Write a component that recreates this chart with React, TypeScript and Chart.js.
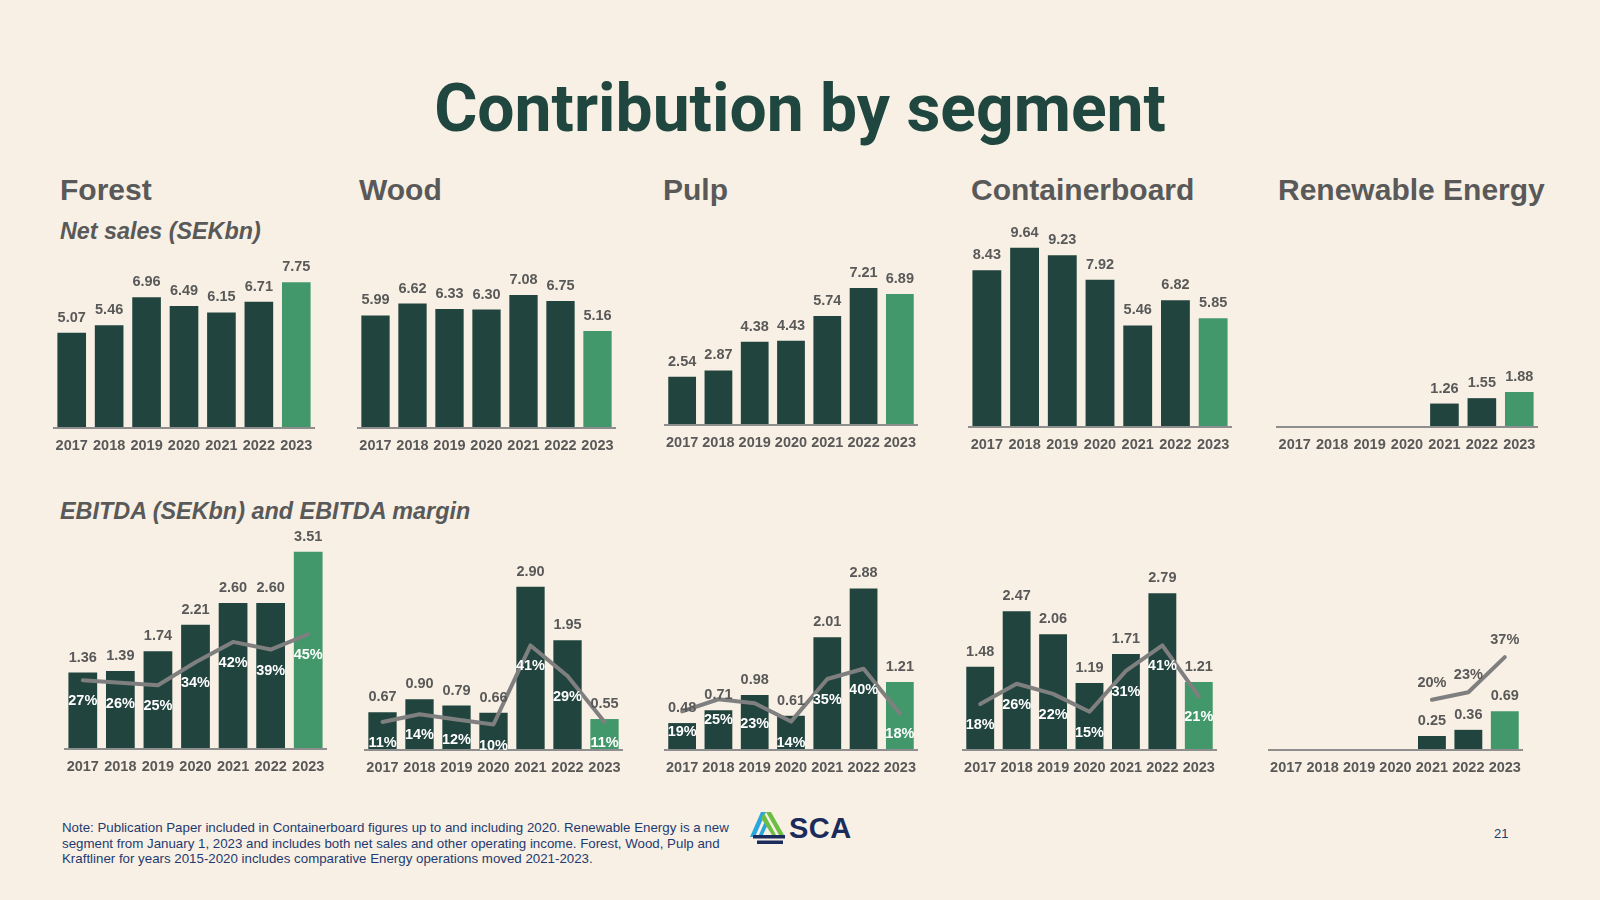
import React, { useEffect, useRef } from "react";
import { Chart, registerables } from "chart.js";

Chart.register(...registerables);

// ---------- data ----------
const years = ["2017", "2018", "2019", "2020", "2021", "2022", "2023"];

const forestSales = [5.07, 5.46, 6.96, 6.49, 6.15, 6.71, 7.75];
const woodSales = [5.99, 6.62, 6.33, 6.3, 7.08, 6.75, 5.16];
const pulpSales = [2.54, 2.87, 4.38, 4.43, 5.74, 7.21, 6.89];
const containerboardSales = [8.43, 9.64, 9.23, 7.92, 5.46, 6.82, 5.85];
const energySales = [null, null, null, null, 1.26, 1.55, 1.88];

const forestEbitda = [1.36, 1.39, 1.74, 2.21, 2.6, 2.6, 3.51];
const forestMargin = [27, 26, 25, 34, 42, 39, 45];
const woodEbitda = [0.67, 0.9, 0.79, 0.66, 2.9, 1.95, 0.55];
const woodMargin = [11, 14, 12, 10, 41, 29, 11];
const pulpEbitda = [0.48, 0.71, 0.98, 0.61, 2.01, 2.88, 1.21];
const pulpMargin = [19, 25, 23, 14, 35, 40, 18];
const containerboardEbitda = [1.48, 2.47, 2.06, 1.19, 1.71, 2.79, 1.21];
const containerboardMargin = [18, 26, 22, 15, 31, 41, 21];
const energyEbitda = [null, null, null, null, 0.25, 0.36, 0.69];
const energyMargin = [null, null, null, null, 20, 23, 37];

const segmentNames = ["Forest", "Wood", "Pulp", "Containerboard", "Renewable Energy"];

// ---------- styles ----------
const BG = "#F8F0E4";
const DARK = "#21443E";
const GREEN = "#43986B";
const GRAY = "#595959";
const LINE = "#7F7F7F";
const AXIS = "#8E8E8E";
const TITLE = "#1F463F";
const NAVY = "#1F3A70";
const FONT = '"Liberation Sans", Arial, Helvetica, sans-serif';

const headingX = [60, 359, 663, 971, 1278];

const salesGeo = [
  { left: 53, right: 315, baseline: 428, unitPx: 18.8 },
  { left: 357, right: 616, baseline: 428, unitPx: 18.8 },
  { left: 664, right: 918, baseline: 425, unitPx: 19.0 },
  { left: 968, right: 1232, baseline: 427, unitPx: 18.6 },
  { left: 1276, right: 1538, baseline: 427, unitPx: 18.6 },
];

const ebitdaGeo = [
  { left: 64, right: 327, baseline: 749, unitPx: 56.2, pctPx: 2.55 },
  { left: 364, right: 623, baseline: 750, unitPx: 56.3, pctPx: 2.55 },
  { left: 664, right: 918, baseline: 750, unitPx: 56.1, pctPx: 2.03 },
  { left: 962, right: 1217, baseline: 750, unitPx: 56.2, pctPx: 2.55 },
  { left: 1268, right: 1523, baseline: 750, unitPx: 56.0, pctPx: 2.51, pctAbove: true },
];

const salesSeries = [forestSales, woodSales, pulpSales, containerboardSales, energySales];
const ebitdaSeries = [forestEbitda, woodEbitda, pulpEbitda, containerboardEbitda, energyEbitda];
const marginSeries = [forestMargin, woodMargin, pulpMargin, containerboardMargin, energyMargin];

const TOP_SPACE = 235;
const BOTTOM_SPACE = 32;

type Geo = {
  left: number;
  right: number;
  baseline: number;
  unitPx: number;
  pctPx?: number;
  pctAbove?: boolean;
};

function SegChart({ values, margins, geo }: { values: (number | null)[]; margins?: (number | null)[]; geo: Geo }) {
  const ref = useRef<HTMLCanvasElement>(null);
  const width = geo.right - geo.left;
  const height = TOP_SPACE + BOTTOM_SPACE;

  useEffect(() => {
    if (!ref.current) return;
    const colors = values.map((_, i) => (i === values.length - 1 ? GREEN : DARK));
    const datasets: any[] = [
      {
        type: "bar",
        data: values,
        backgroundColor: colors,
        borderWidth: 0,
        barPercentage: 0.765,
        categoryPercentage: 1,
        order: 2,
        yAxisID: "y",
      },
    ];
    if (margins) {
      datasets.push({
        type: "line",
        data: margins,
        borderColor: LINE,
        borderWidth: 4,
        pointRadius: 0,
        tension: 0,
        spanGaps: false,
        borderJoinStyle: "round",
        borderCapStyle: "round",
        order: 1,
        yAxisID: "y2",
      });
    }

    const labelPlugin = {
      id: "segLabels",
      afterDatasetsDraw(chart: any) {
        const ctx = chart.ctx;
        const area = chart.chartArea;
        const xs = chart.scales.x;
        ctx.save();
        // axis line
        ctx.strokeStyle = AXIS;
        ctx.lineWidth = 2;
        ctx.beginPath();
        ctx.moveTo(area.left, area.bottom);
        ctx.lineTo(area.right, area.bottom);
        ctx.stroke();
        ctx.textAlign = "center";
        ctx.textBaseline = "middle";
        ctx.font = `bold 14.5px ${FONT}`;
        ctx.fillStyle = GRAY;
        years.forEach((y, i) => ctx.fillText(y, xs.getPixelForValue(i), area.bottom + 18));
        // value labels
        const barMeta = chart.getDatasetMeta(0);
        barMeta.data.forEach((el: any, i: number) => {
          const v = values[i];
          if (v == null) return;
          ctx.fillStyle = GRAY;
          ctx.fillText(v.toFixed(2), el.x, el.y - 15);
        });
        // margin labels
        if (margins) {
          const lineMeta = chart.getDatasetMeta(1);
          lineMeta.data.forEach((pt: any, i: number) => {
            const m = margins[i];
            if (m == null) return;
            if (geo.pctAbove) {
              ctx.fillStyle = GRAY;
              ctx.fillText(`${m}%`, pt.x, pt.y - 17);
            } else {
              ctx.fillStyle = "#FFFFFF";
              ctx.fillText(`${m}%`, pt.x, pt.y + 21);
            }
          });
        }
        ctx.restore();
      },
    };

    const scales: any = {
      x: { type: "category", display: false, offset: true, grid: { display: false } },
      y: { type: "linear", display: false, min: 0, max: TOP_SPACE / geo.unitPx },
    };
    if (geo.pctPx) {
      scales.y2 = { type: "linear", display: false, min: 0, max: TOP_SPACE / geo.pctPx, position: "right" };
    }

    const chart = new Chart(ref.current, {
      type: "bar",
      data: { labels: years, datasets },
      options: {
        responsive: false,
        animation: false,
        devicePixelRatio: 1,
        layout: { padding: { left: 0, right: 0, top: 0, bottom: BOTTOM_SPACE } },
        plugins: { legend: { display: false }, tooltip: { enabled: false } },
        scales,
      } as any,
      plugins: [labelPlugin],
    });
    return () => chart.destroy();
  }, []);

  return (
    <canvas
      ref={ref}
      width={width}
      height={height}
      style={{
        position: "absolute",
        left: geo.left,
        top: geo.baseline - TOP_SPACE,
        width,
        height,
      }}
    />
  );
}

function Logo() {
  return (
    <div style={{ position: "absolute", left: 749, top: 809 }}>
      <svg width="38" height="37" viewBox="0 0 38 37">
        <polygon points="1,28 12,3 17,3 6,28" fill="#2AA6DF" />
        <polygon points="9,28 17,10 19.5,14 13,28" fill="#2AA6DF" />
        <polygon points="17,3 22,3 35,26 30,26" fill="#6CBE45" />
        <polygon points="12,9 15,4 27,26 23,26" fill="#6CBE45" />
        <rect x="4" y="26" width="32" height="3.5" fill="#1B2B5B" />
        <rect x="8" y="31.5" width="26" height="3.5" fill="#1B2B5B" />
      </svg>
      <div
        style={{
          position: "absolute",
          left: 40,
          top: 5,
          fontFamily: FONT,
          fontWeight: 700,
          fontSize: 29,
          lineHeight: "29px",
          letterSpacing: 0.5,
          color: "#1B2B5B",
        }}
      >
        SCA
      </div>
    </div>
  );
}

export default function App() {
  return (
    <div
      style={{
        position: "absolute",
        left: 0,
        top: 0,
        width: 1600,
        height: 900,
        background: BG,
        overflow: "hidden",
        fontFamily: FONT,
      }}
    >
      <div
        style={{
          position: "absolute",
          left: 0,
          top: 76,
          width: 1600,
          textAlign: "center",
          fontFamily: "Roboto, sans-serif",
          fontWeight: 700,
          fontSize: 66,
          lineHeight: "66px",
          color: TITLE,
          whiteSpace: "nowrap",
        }}
      >
        Contribution by segment
      </div>

      {segmentNames.map((n, i) => (
        <div
          key={n}
          style={{
            position: "absolute",
            left: headingX[i],
            top: 175,
            fontWeight: 700,
            fontSize: 30,
            lineHeight: "30px",
            color: GRAY,
            whiteSpace: "nowrap",
          }}
        >
          {n}
        </div>
      ))}

      <div
        style={{
          position: "absolute",
          left: 60,
          top: 220,
          fontWeight: 700,
          fontStyle: "italic",
          fontSize: 23.3,
          lineHeight: "23px",
          color: GRAY,
          whiteSpace: "nowrap",
        }}
      >
        Net sales (SEKbn)
      </div>
      <div
        style={{
          position: "absolute",
          left: 60,
          top: 500,
          fontWeight: 700,
          fontStyle: "italic",
          fontSize: 23.4,
          lineHeight: "23px",
          color: GRAY,
          whiteSpace: "nowrap",
        }}
      >
        EBITDA (SEKbn) and EBITDA margin
      </div>

      {salesSeries.map((s, i) => (
        <SegChart key={"s" + i} values={s} geo={salesGeo[i]} />
      ))}
      {ebitdaSeries.map((s, i) => (
        <SegChart key={"e" + i} values={s} margins={marginSeries[i]} geo={ebitdaGeo[i]} />
      ))}

      <div
        style={{
          position: "absolute",
          left: 62,
          top: 820,
          fontSize: 13.3,
          lineHeight: "15.7px",
          color: NAVY,
          whiteSpace: "nowrap",
        }}
      >
        Note: Publication Paper included in Containerboard figures up to and including 2020. Renewable Energy is a new
        <br />
        segment from January 1, 2023 and includes both net sales and other operating income. Forest, Wood, Pulp and
        <br />
        Kraftliner for years 2015-2020 includes comparative Energy operations moved 2021-2023.
      </div>

      <Logo />

      <div
        style={{
          position: "absolute",
          left: 1494,
          top: 826,
          fontSize: 13,
          lineHeight: "15px",
          color: NAVY,
        }}
      >
        21
      </div>
    </div>
  );
}
